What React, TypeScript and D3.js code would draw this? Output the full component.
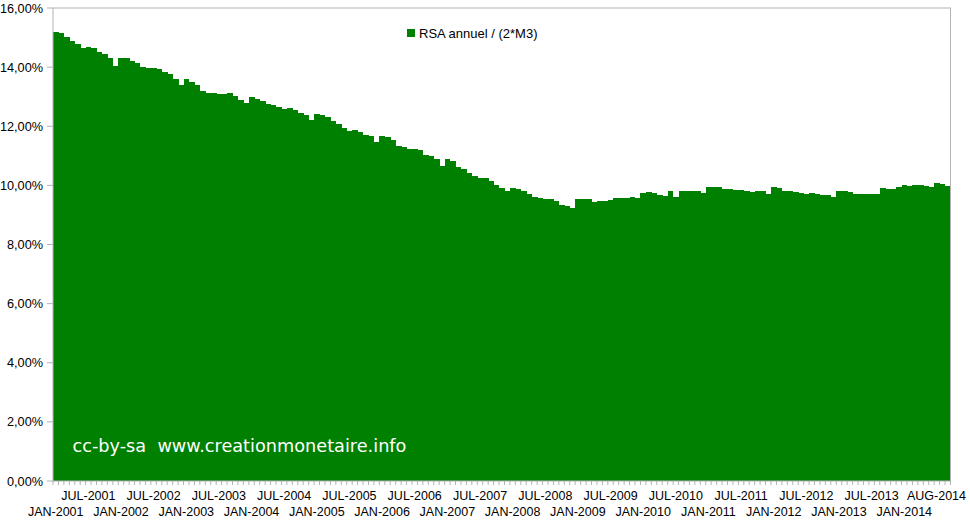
import React, { useRef, useEffect } from "react";
import * as d3 from "d3";

// RSA annuel / (2*M3), monthly, in %
const values: number[] = [
  15.19, 15.15, 15.02, 14.88, 14.78, 14.65, 14.68, 14.65, 14.51, 14.44, 14.31, 14.04,
  14.31, 14.31, 14.2, 14.14, 14.0, 13.97, 13.97, 13.94, 13.83, 13.77, 13.6, 13.4,
  13.6, 13.5, 13.4, 13.2, 13.13, 13.13, 13.09, 13.09, 13.13, 13.02, 12.89, 12.79,
  12.99, 12.92, 12.85, 12.75, 12.72, 12.65, 12.58, 12.62, 12.55, 12.45, 12.38, 12.21,
  12.41, 12.38, 12.31, 12.18, 12.08, 11.94, 11.84, 11.87, 11.81, 11.7, 11.67, 11.47,
  11.67, 11.64, 11.53, 11.33, 11.3, 11.23, 11.23, 11.2, 11.03, 10.99, 10.89, 10.66,
  10.89, 10.82, 10.62, 10.55, 10.42, 10.32, 10.25, 10.25, 10.15, 10.01, 9.91, 9.81,
  9.91, 9.88, 9.81, 9.71, 9.61, 9.57, 9.54, 9.54, 9.47, 9.34, 9.3, 9.23,
  9.54, 9.54, 9.54, 9.44, 9.47, 9.47, 9.5, 9.57, 9.57, 9.57, 9.61, 9.57,
  9.74, 9.78, 9.74, 9.67, 9.64, 9.81, 9.61, 9.81, 9.81, 9.81, 9.81, 9.74,
  9.95, 9.95, 9.95, 9.88, 9.88, 9.84, 9.84, 9.81, 9.78, 9.81, 9.81, 9.71,
  9.95, 9.91, 9.81, 9.81, 9.78, 9.74, 9.71, 9.74, 9.71, 9.67, 9.67, 9.61,
  9.81, 9.81, 9.78, 9.71, 9.71, 9.71, 9.71, 9.71, 9.91, 9.88, 9.88, 9.95,
  10.01, 9.98, 10.01, 10.01, 9.98, 9.95, 10.08, 10.05, 9.98,
];

// x labels: every 6th category, the last one on the last category
const tickLabels: string[] = [
  "JAN-2001", "JUL-2001", "JAN-2002", "JUL-2002", "JAN-2003", "JUL-2003",
  "JAN-2004", "JUL-2004", "JAN-2005", "JUL-2005", "JAN-2006", "JUL-2006",
  "JAN-2007", "JUL-2007", "JAN-2008", "JUL-2008", "JAN-2009", "JUL-2009",
  "JAN-2010", "JUL-2010", "JAN-2011", "JUL-2011", "JAN-2012", "JUL-2012",
  "JAN-2013", "JUL-2013", "JAN-2014", "AUG-2014",
];

const yTicks: number[] = [0, 2, 4, 6, 8, 10, 12, 14, 16];

const seriesName = "RSA annuel / (2*M3)";
const watermark = "cc-by-sa  www.creationmonetaire.info";

export default function App() {
  const ref = useRef<SVGSVGElement>(null);

  useEffect(() => {
    const width = 970, height = 520;
    const margin = { top: 8, right: 19.5, bottom: 39, left: 53 };
    const grey = "#b3b3b3";
    const font = "'Liberation Sans', Arial, sans-serif";

    const svg = d3.select(ref.current);
    svg.selectAll("*").remove();
    svg.attr("width", width).attr("height", height);

    const idx = values.map((_, i) => i);
    const x = d3.scaleBand<number>()
      .domain(idx)
      .range([margin.left, width - margin.right])
      .padding(0);
    const y = d3.scaleLinear()
      .domain([0, 16])
      .range([height - margin.bottom, margin.top]);

    // bars
    svg.append("g")
      .selectAll("rect")
      .data(values)
      .enter()
      .append("rect")
      .attr("x", (d, i) => x(i)!)
      .attr("y", d => y(d))
      .attr("width", x.bandwidth() + 0.4)
      .attr("height", d => y(0) - y(d))
      .attr("fill", "#008000")
      .attr("shape-rendering", "crispEdges");

    // plot frame
    svg.append("rect")
      .attr("x", margin.left)
      .attr("y", margin.top)
      .attr("width", width - margin.right - margin.left)
      .attr("height", y(0) - margin.top)
      .attr("fill", "none")
      .attr("stroke", grey)
      .attr("stroke-width", 1);

    // y axis ticks + labels
    const yg = svg.append("g");
    yTicks.forEach(t => {
      yg.append("line")
        .attr("x1", margin.left - 6).attr("x2", margin.left)
        .attr("y1", y(t)).attr("y2", y(t))
        .attr("stroke", grey);
      yg.append("text")
        .attr("x", margin.left - 10)
        .attr("y", y(t) + 4.5)
        .attr("text-anchor", "end")
        .style("font-family", font)
        .style("font-size", "12.7px")
        .style("fill", "#000")
        .text(d3.format(".2f")(t).replace(".", ",") + "%");
    });

    // x axis minor ticks at each category boundary
    const xg = svg.append("g");
    const bounds = idx.concat([values.length]);
    bounds.forEach(i => {
      const px = i < values.length ? x(i)! : x(values.length - 1)! + x.bandwidth();
      xg.append("line")
        .attr("x1", px).attr("x2", px)
        .attr("y1", y(0)).attr("y2", y(0) + 4)
        .attr("stroke", grey);
    });

    // x labels, alternating rows
    tickLabels.forEach((lab, k) => {
      const i = k === tickLabels.length - 1 ? values.length - 1 : k * 6;
      const cx = x(i)! + x.bandwidth() / 2;
      const t = xg.append("text")
        .attr("x", cx)
        .attr("y", k % 2 === 0 ? 516 : 500)
        .attr("text-anchor", "middle")
        .style("font-family", font)
        .style("font-size", "12.5px")
        .style("fill", "#000")
        .text(lab);
      const w = (t.node() as SVGTextElement).getComputedTextLength();
      if (cx + w / 2 > width - 4) t.attr("x", width - 4 - w / 2);
    });

    // legend
    const lg = svg.append("g");
    lg.append("rect")
      .attr("x", 407).attr("y", 29)
      .attr("width", 8).attr("height", 8)
      .attr("fill", "#008000");
    lg.append("text")
      .attr("x", 419).attr("y", 37.5)
      .style("font-family", font)
      .style("font-size", "13px")
      .style("fill", "#000")
      .text(seriesName);

    // watermark
    svg.append("text")
      .attr("x", 72.5).attr("y", 452)
      .style("font-family", "'DejaVu Sans', sans-serif")
      .style("font-size", "17.7px")
      .style("fill", "#fff")
      .style("white-space", "pre")
      .text(watermark);
  }, []);

  return (
    <svg
      ref={ref}
      style={{ position: "absolute", left: 0, top: 0, display: "block", background: "#fff" }}
    />
  );
}
